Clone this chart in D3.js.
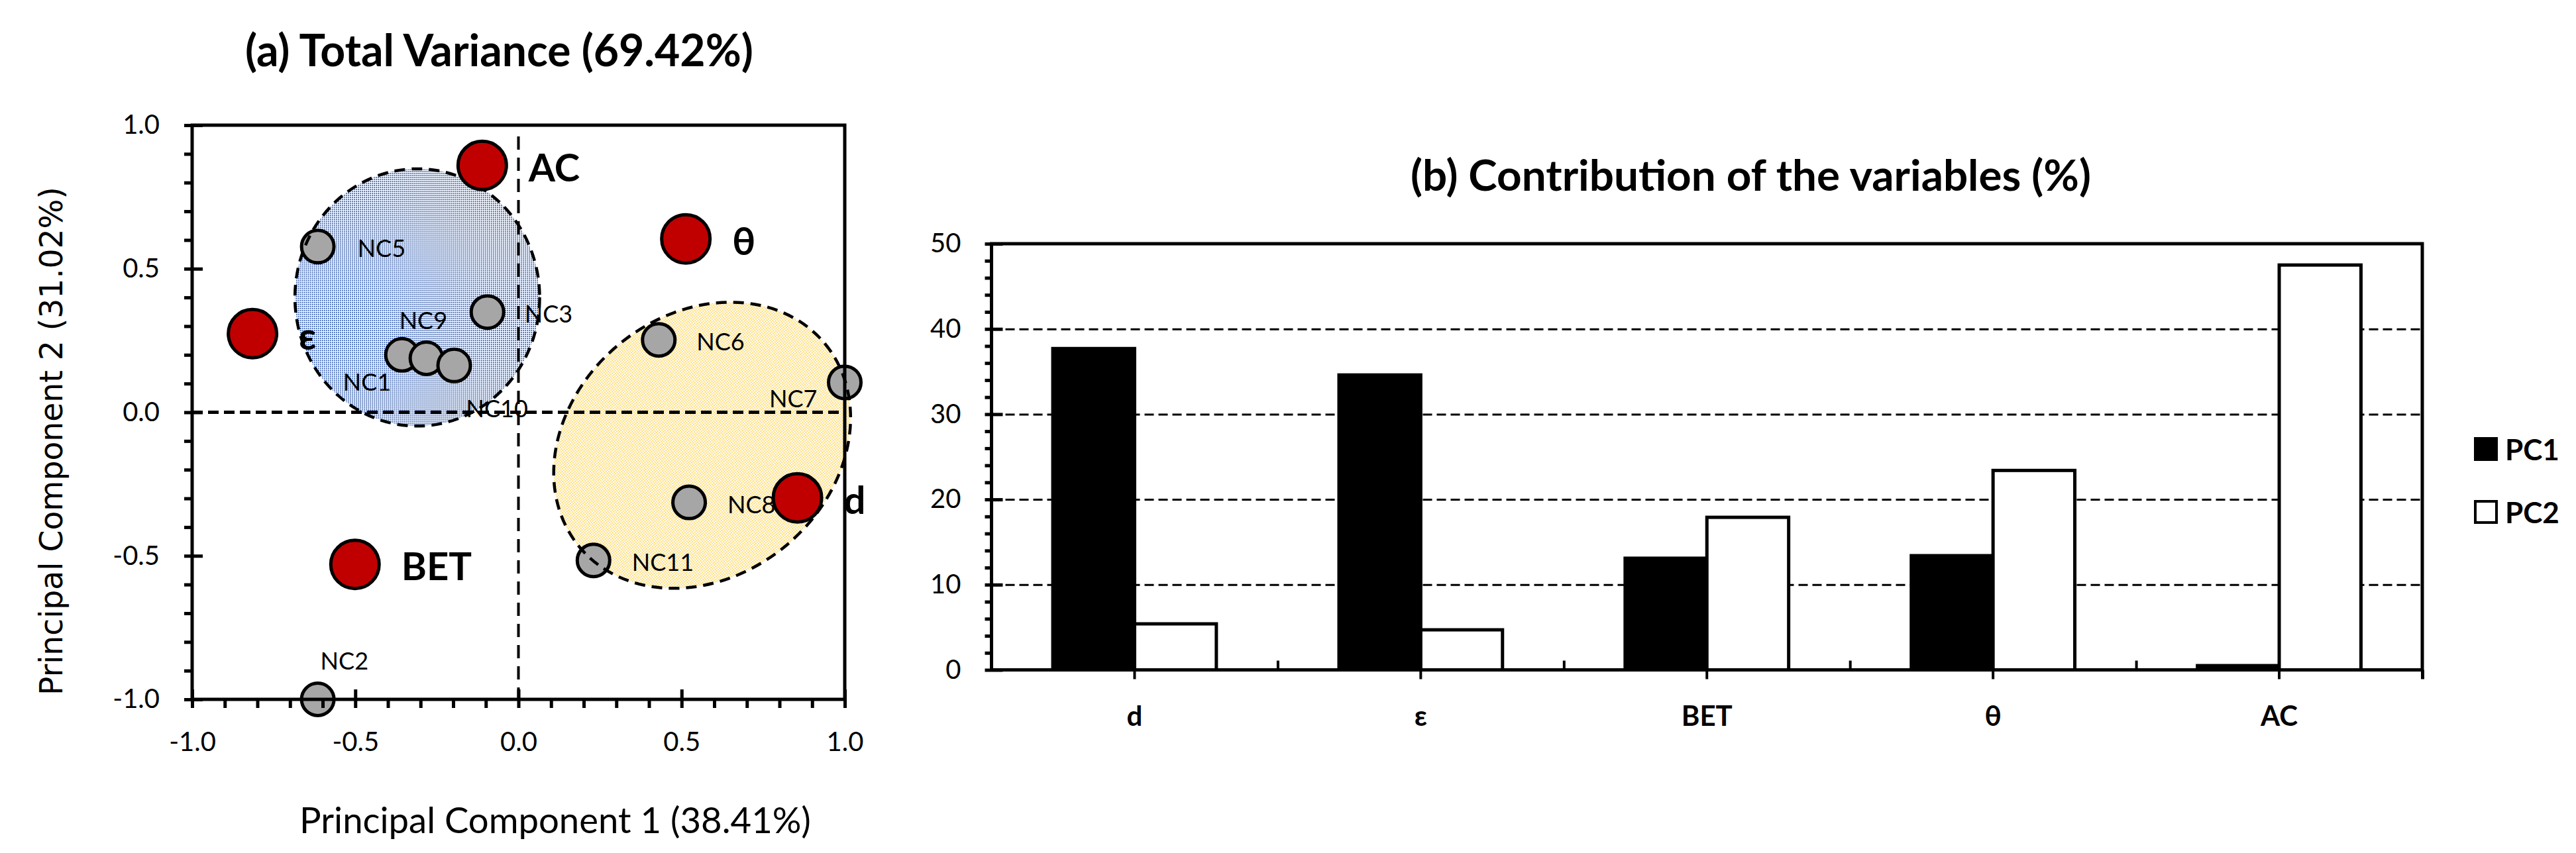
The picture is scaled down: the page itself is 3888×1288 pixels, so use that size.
<!DOCTYPE html>
<html><head><meta charset="utf-8">
<script src="https://cdn.jsdelivr.net/npm/d3@7"></script>
<style>body{margin:0;background:#fff} svg{display:block}</style>
</head><body>
<svg id="chart" width="3888" height="1288"></svg>
<script>
// ---------- DATA ----------
const variableNames = ["AC", "θ", "ε", "d", "BET"];
const variablePC1 = [-0.111, 0.513, -0.815, 0.855, -0.501];
const variablePC2 = [0.860, 0.604, 0.274, -0.298, -0.530];

const sampleNames = ["NC1", "NC2", "NC3", "NC5", "NC6", "NC7", "NC8", "NC9", "NC10", "NC11"];
const samplePC1 = [-0.357, -0.615, -0.095, -0.615, 0.430, 1.000, 0.523, -0.282, -0.197, 0.230];
const samplePC2 = [0.200, -1.000, 0.349, 0.577, 0.252, 0.104, -0.314, 0.188, 0.163, -0.516];

const axisTicksA = [-1.0, -0.5, 0.0, 0.5, 1.0];

const contribCategories = ["d", "ε", "BET", "θ", "AC"];
const contribPC1 = [37.7, 34.6, 13.1, 13.4, 0.5];
const contribPC2 = [5.4, 4.7, 17.9, 23.4, 47.5];
const contribTicks = [0, 10, 20, 30, 40, 50];
const seriesNames = ["PC1", "PC2"];

// ---------- LAYOUT (not data) ----------
const sampleLabelOffset = {NC1:[-89,54], NC2:[4,-45], NC3:[56,16], NC5:[60,16], NC6:[57,16],
  NC7:[-114,38], NC8:[58,16], NC9:[-41,-44], NC10:[18,78], NC11:[58,16]};
const varLabelOffset = [70, 24];
const clusterBlue = {cx:-0.31, cy:0.40, rx:0.375, ryY:0.448};
const clusterYellow = {cx:0.563, cy:-0.115, a:0.4885, b:0.4008, rot:-39.6};

const FONT = "Lato, 'Open Sans', sans-serif";
const svg = d3.select("#chart");
function fitText(sel, targetW){
  const w = sel.node().getComputedTextLength();
  if (w > 0) sel.attr("font-size", (+sel.attr("font-size")) * targetW / w);
  return sel;
}
const defs = svg.append("defs");
const pb = defs.append("pattern").attr("id","bluePat").attr("width",3).attr("height",3).attr("patternUnits","userSpaceOnUse");
pb.append("rect").attr("width",3).attr("height",3).attr("fill","#ffffff");
pb.append("rect").attr("width",2).attr("height",2).attr("fill","#5B7DBE");
const py = defs.append("pattern").attr("id","yellowPat").attr("width",3).attr("height",3).attr("patternUnits","userSpaceOnUse");
py.append("rect").attr("width",3).attr("height",3).attr("fill","#ffffff");
py.append("rect").attr("width",2).attr("height",2).attr("fill","#FFDB70");

// ================= CHART (a) =================
const A = {l:290, r:1275, t:189, b:1056};
const xA = d3.scaleLinear().domain([-1,1]).range([A.l, A.r]);
const yA = d3.scaleLinear().domain([-1,1]).range([A.b, A.t]);
const gA = svg.append("g");
const ux = xA(1) - xA(0), uy = yA(0) - yA(1);

function blueEllipse(g){ return g.append("ellipse")
  .attr("cx", xA(clusterBlue.cx)).attr("cy", yA(clusterBlue.cy))
  .attr("rx", clusterBlue.rx*ux).attr("ry", clusterBlue.ryY*uy); }
function yellowEllipse(g){ return g.append("ellipse")
  .attr("transform", `translate(${xA(clusterYellow.cx)},${yA(clusterYellow.cy)}) rotate(${clusterYellow.rot})`)
  .attr("rx", clusterYellow.a*ux).attr("ry", clusterYellow.b*ux); }

blueEllipse(gA).attr("fill","url(#bluePat)");
yellowEllipse(gA).attr("fill","url(#yellowPat)");

// zero lines
gA.append("line").attr("x1",xA(-1)).attr("x2",xA(1)).attr("y1",yA(0)).attr("y2",yA(0))
  .attr("stroke","#000").attr("stroke-width",5).attr("stroke-dasharray","16,8");
gA.append("line").attr("x1",xA(0)).attr("x2",xA(0)).attr("y1",yA(1)+17).attr("y2",yA(-1))
  .attr("stroke","#000").attr("stroke-width",4).attr("stroke-dasharray","20,12");

// sample points
const samples = sampleNames.map((n,i)=>({n, x:samplePC1[i], y:samplePC2[i]}));
gA.selectAll("circle.s").data(samples).join("circle").attr("class","s")
  .attr("cx",d=>xA(d.x)).attr("cy",d=>yA(d.y)).attr("r",24.5)
  .attr("fill","#A6A6A6").attr("stroke","#000").attr("stroke-width",5);

// ellipse outlines
blueEllipse(gA).attr("fill","none").attr("stroke","#000").attr("stroke-width",4.5).attr("stroke-dasharray","16,10");
yellowEllipse(gA).attr("fill","none").attr("stroke","#000").attr("stroke-width",4.5).attr("stroke-dasharray","16,10");

gA.selectAll("text.s").data(samples).join("text").attr("class","s")
  .attr("x",d=>xA(d.x)+sampleLabelOffset[d.n][0]).attr("y",d=>yA(d.y)+sampleLabelOffset[d.n][1])
  .attr("font-family",FONT).attr("font-size",36).attr("fill","#000").text(d=>d.n);

// variable points
const vars = variableNames.map((n,i)=>({n, x:variablePC1[i], y:variablePC2[i]}));
gA.selectAll("circle.v").data(vars).join("circle").attr("class","v")
  .attr("cx",d=>xA(d.x)).attr("cy",d=>yA(d.y)).attr("r",36.5)
  .attr("fill","#C00000").attr("stroke","#000").attr("stroke-width",5);
gA.selectAll("text.v").data(vars).join("text").attr("class","v")
  .attr("x",d=>xA(d.x)+varLabelOffset[0]).attr("y",d=>yA(d.y)+varLabelOffset[1])
  .attr("font-family",FONT).attr("font-weight","bold").attr("font-size",58).attr("fill","#000").text(d=>d.n);

// frame
gA.append("rect").attr("x",A.l).attr("y",A.t).attr("width",A.r-A.l).attr("height",A.b-A.t)
  .attr("fill","none").attr("stroke","#000").attr("stroke-width",5);

// axes
const minorA = d3.range(-10,11).map(i=>i/10);
function styleTicks(g, w){ g.select(".domain").remove(); g.selectAll("line").attr("stroke","#000").attr("stroke-width",w); }
function styleLabels(g, size, weight){ g.select(".domain").remove(); g.attr("font-family",FONT).attr("font-size",size).attr("font-weight",weight||"normal"); g.selectAll("text").attr("fill","#000"); }
gA.append("g").attr("transform",`translate(${A.l},0)`).call(d3.axisLeft(yA).tickValues(minorA).tickSize(12).tickFormat("")).call(g=>styleTicks(g,5));
gA.append("g").attr("transform",`translate(${A.l},0)`).call(d3.axisLeft(yA).tickValues(axisTicksA).tickSize(-16).tickFormat("")).call(g=>styleTicks(g,5));
gA.append("g").attr("transform",`translate(0,${A.b})`).call(d3.axisBottom(xA).tickValues(minorA).tickSize(13).tickFormat("")).call(g=>styleTicks(g,5));
gA.append("g").attr("transform",`translate(0,${A.b})`).call(d3.axisBottom(xA).tickValues(axisTicksA).tickSize(-15).tickFormat("")).call(g=>styleTicks(g,5));
const fmt1 = d => d.toFixed(1);
gA.append("g").attr("transform",`translate(${A.l},0)`).call(d3.axisLeft(yA).tickValues(axisTicksA).tickSize(0).tickPadding(49).tickFormat(fmt1))
  .call(g=>styleLabels(g,40));
gA.append("g").attr("transform",`translate(0,${A.b})`).call(d3.axisBottom(xA).tickValues(axisTicksA).tickSize(0).tickPadding(50).tickFormat(fmt1))
  .call(g=>styleLabels(g,40));

// titles / axis labels
fitText(svg.append("text").attr("x",753.5).attr("y",100).attr("text-anchor","middle")
  .attr("font-family",FONT).attr("font-weight","bold").attr("font-size",60).text("(a) Total Variance (69.42%)"), 767);
fitText(svg.append("text").attr("x",838).attr("y",1258).attr("text-anchor","middle")
  .attr("font-family",FONT).attr("font-size",54).text("Principal Component 1 (38.41%)"), 772);
fitText(svg.append("text").attr("transform","translate(94,666) rotate(-90)").attr("text-anchor","middle")
  .attr("font-family","'DejaVu Sans', sans-serif").attr("font-size",47).text("Principal Component 2 (31.02%)"), 768);

// ================= CHART (b) =================
const B = {l:1496.5, r:3656, t:368, b:1011.5};
const xB = d3.scaleBand().domain(contribCategories).range([B.l, B.r]).paddingInner(0).paddingOuter(0);
const xS = d3.scaleBand().domain(seriesNames).range([0, xB.bandwidth()]).paddingInner(0).paddingOuter(0.75);
const yB = d3.scaleLinear().domain([0,50]).range([B.b, B.t]);
const gB = svg.append("g");

// gridlines
gB.append("g").attr("transform",`translate(${B.l},0)`)
  .call(d3.axisLeft(yB).tickValues([10,20,30,40]).tickSize(-(B.r-B.l)).tickFormat(""))
  .call(g=>{g.select(".domain").remove(); g.selectAll("line").attr("stroke","#000").attr("stroke-width",3).attr("stroke-dasharray","14,7");});

// bars
const barData = [];
contribCategories.forEach((c,i)=>{
  barData.push({c, s:"PC1", v:contribPC1[i]});
  barData.push({c, s:"PC2", v:contribPC2[i]});
});
gB.selectAll("rect.bar").data(barData).join("rect").attr("class","bar")
  .attr("x",d=>xB(d.c)+xS(d.s)).attr("width",xS.bandwidth())
  .attr("y",d=>yB(d.v)).attr("height",d=>yB(0)-yB(d.v))
  .attr("fill",d=>d.s==="PC1"?"#000":"#fff").attr("stroke","#000").attr("stroke-width",5);

// frame
gB.append("rect").attr("x",B.l).attr("y",B.t).attr("width",B.r-B.l).attr("height",B.b-B.t)
  .attr("fill","none").attr("stroke","#000").attr("stroke-width",5);

// y axis
gB.append("g").attr("transform",`translate(${B.l},0)`).call(d3.axisLeft(yB).tickValues(d3.range(0,51,2)).tickSize(10).tickFormat("")).call(g=>styleTicks(g,5));
gB.append("g").attr("transform",`translate(${B.l},0)`).call(d3.axisLeft(yB).tickValues(contribTicks).tickSize(-17).tickFormat("")).call(g=>styleTicks(g,5));
gB.append("g").attr("transform",`translate(${B.l},0)`).call(d3.axisLeft(yB).tickValues(contribTicks).tickSize(0).tickPadding(46).tickFormat(d3.format("d")))
  .call(g=>styleLabels(g,40));

// x axis
const idxB = d3.scaleLinear().domain([0, contribCategories.length]).range([B.l, B.r]);
gB.append("g").attr("transform",`translate(0,${B.b})`).call(d3.axisBottom(xB).tickSize(14).tickFormat("")).call(g=>styleTicks(g,4));
gB.append("g").attr("transform",`translate(0,${B.b})`).call(d3.axisBottom(idxB).tickValues([1,2,3,4]).tickSize(-14).tickFormat("")).call(g=>styleTicks(g,4));
gB.append("g").attr("transform",`translate(0,${B.b})`).call(d3.axisBottom(idxB).tickValues([5]).tickSize(14).tickFormat("")).call(g=>styleTicks(g,5));
gB.append("g").attr("transform",`translate(0,${B.b})`).call(d3.axisBottom(xB).tickSize(0).tickPadding(55))
  .call(g=>styleLabels(g,42,"bold"));

// title
fitText(svg.append("text").attr("x",2642.5).attr("y",288).attr("text-anchor","middle")
  .attr("font-family",FONT).attr("font-weight","bold").attr("font-size",60).text("(b) Contribution of the variables (%)"), 1027);

// legend
const legY = [662, 757];
const lg = svg.append("g");
seriesNames.forEach((s,i)=>{
  lg.append("rect").attr("x",3736).attr("y",legY[i]).attr("width",32).attr("height",32)
    .attr("fill",i===0?"#000":"#fff").attr("stroke","#000").attr("stroke-width",4);
  lg.append("text").attr("x",3781).attr("y",legY[i]+33).attr("font-family",FONT).attr("font-weight","bold")
    .attr("font-size",44).text(s);
});
</script>
</body></html>
